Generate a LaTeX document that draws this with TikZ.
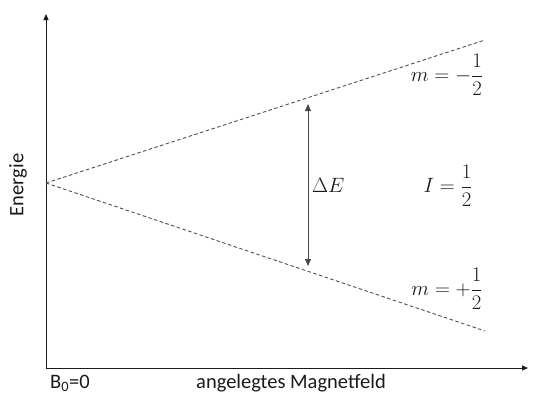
\documentclass[tikz,border=0pt]{standalone}
\usepackage{amsmath}
\usepackage{fontspec}
\setmainfont{Carlito}
\usepackage{tikz}
\usetikzlibrary{arrows.meta,positioning,calc}
\definecolor{ink}{HTML}{1A1A1A}
\definecolor{quiet}{HTML}{505050}
\tikzset{
  axis/.style={-{Triangle[length=6pt,width=5pt]},line width=1pt,draw=ink},
  level/.style={dash pattern=on 3.5pt off 2.5pt,line width=0.9pt,draw=quiet},
  gap/.style={{Triangle[length=7pt,width=6pt]}-{Triangle[length=7pt,width=6pt]},line width=1pt,draw=ink!80},
  lbl/.style={font=\fontsize{20.5}{24}\selectfont,text=ink,inner sep=1pt},
  mlbl/.style={font=\fontsize{20.5}{24}\selectfont,text=ink,inner sep=1pt}
}
\begin{document}
\begin{tikzpicture}[x=1pt,y=-1pt]
  \useasboundingbox (0,0) rectangle (541,397);
  % axes
  \coordinate (origin) at (46,368);
  \coordinate (ytop) at (46,14);
  \coordinate (xend) at (528,368);
  \draw[axis] (origin) -- (ytop);
  \draw[axis] (origin) -- (xend);
  % Zeeman levels
  \coordinate (split) at (46,183);
  \coordinate (upper) at (485,40);
  \coordinate (lower) at (485,331);
  \draw[level] (split) -- (upper);
  \draw[level] (split) -- (lower);
  \coordinate (detop) at (308,104);
  \coordinate (debot) at (308,266);
  \draw[gap] (detop) -- (debot);
  % labels
  \node[lbl,rotate=90] (energy) at (18,185) {Energie};
  \node[lbl] (bzero) at (70,383) {B$_{\text{0}}$=0};
  \node[lbl] (field) at (291,383) {angelegtes Magnetfeld};
  \node[mlbl] (mminus) at (447,75) {$m=-\dfrac{1}{2}$};
  \node[mlbl] (spin) at (448,186) {$I=\dfrac{1}{2}$};
  \node[mlbl] (mplus) at (447,289) {$m=+\dfrac{1}{2}$};
  \node[mlbl,right=3pt of $(detop)!0.5!(debot)$] (delta) {$\Delta E$};
\end{tikzpicture}
\end{document}
